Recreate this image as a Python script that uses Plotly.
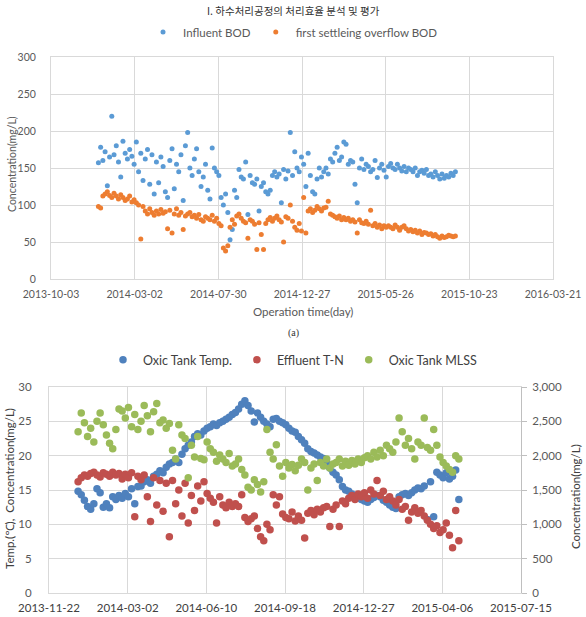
import pandas as pd
import plotly.graph_objects as go

# ---------------- Chart (a): BOD ----------------
a_start = "2013-12-27"          # first sampling day
a_step = "4D"                   # sampling interval
influent_bod = [
    157, 178, 160, 172, 126, 165, 220, 168, 180, 158,
    138, 186, 170, 162, 175, 166, 155, 185, 145, 170,
    133, 162, 175, 128, 168, 115, 158, 130, 165, 152,
    118, 110, 160, 176, 122, 155, 145, 168, 106, 180,
    198, 150, 140, 162, 176, 145, 125, 138, 155, 120,
    108, 177, 150, 145, 140, 110, 100, 115, 90, 53,
    67, 120, 110, 148, 138, 135, 158, 87, 140, 130,
    128, 135, 92, 125, 130, 118, 115, 120, 140, 145,
    138, 142, 103, 148, 135, 146, 198, 140, 172, 150,
    145, 165, 155, 125, 170, 140, 118, 115, 135, 150,
    138, 145, 150, 142, 162, 158, 170, 178, 160, 165,
    185, 182, 155, 160, 158, 128, 103, 150, 162, 148,
    155, 152, 145, 148, 160, 137, 150, 155, 147, 138,
    152, 156, 150, 148, 155, 150, 146, 152, 145, 150,
    148, 145, 150, 140, 145, 147, 143, 148, 140, 142,
    138, 145, 140, 135, 142, 136, 140, 138, 143, 140,
    145,
]
settling_bod = [
    98, 96, 112, 115, 118, 113, 110, 116, 112, 108,
    114, 110, 106, 108, 112, 104, 107, 103, 100, 54,
    98, 92, 88, 95, 90, 86, 92, 88, 94, 89,
    91, 68, 93, 62, 88, 95, 86, 90, 67, 85,
    88, 90, 84, 86, 82, 87, 80, 78, 84, 82,
    80, 86, 78, 82, 75, 72, 42, 38, 45, 70,
    80, 74, 85, 88, 82, 78, 76, 55, 80, 78,
    74, 40, 76, 60, 40, 75, 80, 83, 78, 82,
    85, 80, 77, 50, 84, 82, 100, 78, 70, 66,
    75, 65, 110, 62, 92, 95, 90, 93, 98, 95,
    92, 96, 97, 105, 88, 86, 84, 82, 85, 80,
    83, 80, 82, 78, 80, 77, 62, 80, 76, 75,
    78, 74, 93, 72, 75, 70, 73, 68, 72, 70,
    72, 70, 68, 73, 70, 66, 70, 72, 68, 65,
    67, 64, 66, 62, 65, 60, 63, 62, 60, 61,
    58, 60, 57, 55, 58, 56, 57, 59, 58, 57,
    58,
]
a_ticks = ["2013-10-03", "2014-03-02", "2014-07-30", "2014-12-27",
           "2015-05-26", "2015-10-23", "2016-03-21"]
a_yticks = [0, 50, 100, 150, 200, 250, 300]

# ---------------- Chart (b): oxic tank ----------------
b_start = "2013-12-29"
b_step = "4D"
oxic_temp = [
    14.8, 14.3, 13.5, 12.6, 12.2, 13.0, 15.2, 14.6, 12.5, 13.0,
    12.4, 14.0, 13.6, 14.2, 13.8, 14.5, 14.0, 15.2, 13.0, 15.5,
    15.6, 16.2, 16.5, 16.0, 17.0, 17.3, 17.8, 17.5, 18.3, 18.8,
    19.0, 19.5, 19.0, 20.2, 21.0, 21.5, 22.0, 22.8, 23.2, 23.0,
    23.6, 24.0, 24.2, 24.6, 24.4, 24.8, 25.0, 25.3, 25.6, 26.0,
    26.3, 26.8, 27.5, 28.0, 27.3, 26.5, 24.9, 26.2, 25.6, 25.0,
    24.6, 24.2, 25.3, 25.4, 25.0, 24.8, 24.5, 24.0, 23.6, 23.4,
    22.8, 22.3, 21.8, 21.0, 20.6, 20.4, 20.1, 19.8, 19.6, 19.0,
    18.2, 17.6, 17.2, 16.5, 15.5, 15.0, 14.8, 14.4, 14.2, 14.0,
    13.6, 13.4, 13.2, 13.6, 13.9, 14.2, 14.0, 13.5, 13.2, 12.8,
    12.5, 12.3, 14.0, 14.3, 14.5, 14.2, 14.6, 15.0, 15.3, 15.2,
    15.6, 10.7, 16.2, 11.1, 17.6, 17.2, 16.8, 17.5, 16.6, 17.0,
    17.9, 13.6,
]
effluent_tn = [
    16.2, 16.8, 17.2, 17.0, 17.4, 17.6, 17.2, 16.9, 17.5, 17.3,
    17.0, 17.6, 17.2, 17.4, 16.6, 17.3, 16.8, 17.5, 11.1, 17.0,
    16.5, 17.2, 14.0, 10.4, 16.8, 12.8, 16.4, 11.9, 16.0, 8.2,
    16.4, 13.0, 15.0, 11.2, 16.0, 10.2, 14.2, 12.0, 15.6, 13.4,
    16.2, 14.5, 13.8, 13.2, 10.2, 14.0, 12.8, 12.4, 13.2, 12.6,
    13.0, 12.6, 14.3, 11.0, 10.4, 10.8, 11.2, 9.4, 8.2, 7.6,
    10.0, 9.2, 14.3, 12.8, 14.0, 11.5, 11.0, 10.8, 11.8, 10.5,
    11.2, 10.6, 8.0, 11.6, 12.0, 11.4, 12.2, 11.8, 12.4, 12.6,
    9.7, 12.2, 12.8, 9.7, 13.4, 13.0, 13.8, 14.2, 13.6, 14.4,
    14.0, 14.6, 13.8, 15.0, 14.4, 16.4, 14.2, 14.8, 13.6, 14.0,
    13.4, 12.8, 13.6, 12.2, 12.6, 10.6, 11.8, 12.4, 11.6, 12.0,
    11.2, 10.6, 10.0, 9.4, 9.8, 8.8, 9.2, 10.2, 8.4, 6.6,
    12.0, 7.6,
]
oxic_mlss = [
    2350, 2620, 2480, 2280, 2400, 2200, 2500, 2620, 2450, 2300,
    2180, 2100, 2380, 2680, 2650, 2550, 2700, 2420, 2600, 2380,
    2500, 2730, 2580, 2350, 2640, 2760, 2480, 2520, 2400, 2470,
    2080, 1950, 2450, 2300, 2250, 1680, 2150, 1980, 2280, 1960,
    1940, 2200, 2100, 2050, 1920, 2010, 1950, 1900, 2030, 1850,
    1880, 1950, 1800, 1720, 1540, 1500, 1650, 1580, 1470, 1620,
    2380, 2050, 1950, 2160, 1850, 1700, 1900, 1820, 1870, 1780,
    1860, 1950, 1900, 1500, 1820, 1880, 1640, 1900, 1850, 1950,
    1820, 1880, 1900, 1950, 1850, 1920, 1860, 1930, 1880, 1950,
    1900, 1970, 2000, 1950, 2050, 1980, 2080, 2000, 2150, 2100,
    2050, 2200, 2550, 2350, 2150, 2250, 2100, 1950, 2200, 2150,
    2550, 2120, 2080, 2380, 2150, 1980, 1900, 1850, 1800, 1760,
    2000, 1950,
]
b_ticks = ["2013-11-22", "2014-03-02", "2014-06-10", "2014-09-18",
           "2014-12-27", "2015-04-06", "2015-07-15"]
b_yticks_left = [0, 5, 10, 15, 20, 25, 30]
b_yticks_right = [0, 500, 1000, 1500, 2000, 2500, 3000]

a_dates = pd.date_range(a_start, periods=len(influent_bod), freq=a_step)
a_dates2 = pd.date_range(a_start, periods=len(settling_bod), freq=a_step)
b_dates_t = pd.date_range(b_start, periods=len(oxic_temp), freq=b_step)
b_dates_n = pd.date_range(b_start, periods=len(effluent_tn), freq=b_step)
b_dates_m = pd.date_range(b_start, periods=len(oxic_mlss), freq=b_step)

W, H = 586, 617
def px(x):
    return x / W
def py(y):
    return 1 - y / H

GRID = "#d9d9d9"
TXT = "#595959"
FONT = "Lato, Noto Sans, sans-serif"

fig = go.Figure()
fig.add_trace(go.Scatter(x=a_dates, y=influent_bod, mode="markers", name="Influent BOD",
                         marker=dict(color="#5B9BD5", size=5), xaxis="x", yaxis="y",
                         legend="legend"))
fig.add_trace(go.Scatter(x=a_dates2, y=settling_bod, mode="markers",
                         name="first settleing overflow BOD",
                         marker=dict(color="#ED7D31", size=5), xaxis="x", yaxis="y",
                         legend="legend"))
fig.add_trace(go.Scatter(x=b_dates_t, y=oxic_temp, mode="markers", name="Oxic Tank Temp.",
                         marker=dict(color="#4F81BD", size=7.5), xaxis="x2", yaxis="y2",
                         legend="legend2"))
fig.add_trace(go.Scatter(x=b_dates_n, y=effluent_tn, mode="markers", name="Effluent T-N",
                         marker=dict(color="#C0504D", size=7.5), xaxis="x2", yaxis="y2",
                         legend="legend2"))
fig.add_trace(go.Scatter(x=b_dates_m, y=oxic_mlss, mode="markers", name="Oxic Tank MLSS",
                         marker=dict(color="#9BBB59", size=7.5), xaxis="x2", yaxis="y3",
                         legend="legend2"))

fig.update_layout(
    width=W, height=H, margin=dict(l=0, r=0, t=0, b=0, autoexpand=False),
    paper_bgcolor="white", plot_bgcolor="white",
    font=dict(family=FONT, color=TXT, size=10),
    xaxis=dict(domain=[px(51), px(553)], anchor="y", type="date", automargin=False,
               range=[a_ticks[0], a_ticks[-1]], tickvals=a_ticks, ticktext=a_ticks,
               showgrid=True, gridcolor=GRID, showline=True, mirror=True, linecolor=GRID,
               ticks="", tickfont=dict(size=10.5, color=TXT), ticklabelstandoff=5),
    yaxis=dict(domain=[py(279), py(57)], anchor="x", range=[0, 300], tickvals=a_yticks,
               automargin=False,
               showgrid=True, gridcolor=GRID, showline=True, mirror=True, linecolor=GRID,
               zeroline=False, ticks="", tickfont=dict(size=10.5, color=TXT),
               ticklabelstandoff=12),
    xaxis2=dict(domain=[px(49), px(521)], anchor="y2", type="date", automargin=False,
                range=[b_ticks[0], b_ticks[-1]], tickvals=b_ticks, ticktext=b_ticks,
                showgrid=True, gridcolor=GRID, showline=True, mirror=True, linecolor=GRID,
                ticks="", tickfont=dict(size=11.5, color="#404040"), ticklabelstandoff=4),
    yaxis2=dict(domain=[py(593), py(387)], anchor="x2", range=[0, 30], tickvals=b_yticks_left,
                automargin=False,
                showgrid=True, gridcolor=GRID, showline=True, linecolor=GRID, zeroline=False,
                ticks="", tickfont=dict(size=11.5, color=TXT), ticklabelstandoff=14),
    yaxis3=dict(anchor="x2", overlaying="y2", side="right", range=[0, 3000],
                automargin=False,
                tickvals=b_yticks_right, tickformat=",", showgrid=False,
                showline=True, linecolor="#bfbfbf", zeroline=False,
                ticks="outside", ticklen=5, tickcolor="#bfbfbf",
                tickfont=dict(size=11.5, color=TXT), ticklabelstandoff=3),
    legend=dict(orientation="h", x=0.5, xanchor="center", y=py(32), yanchor="middle",
                font=dict(size=11.5, color=TXT), bgcolor="rgba(0,0,0,0)",
                itemwidth=30),
    legend2=dict(orientation="h", x=0.5, xanchor="center", y=py(360), yanchor="middle",
                 font=dict(size=12.5, color="#404040"), bgcolor="rgba(0,0,0,0)",
                 itemwidth=30),
    annotations=[
        dict(text="I. 하수처리공정의 처리효율 분석 및 평가", x=0.5, y=py(1), xref="paper",
             yref="paper", showarrow=False, xanchor="center", yanchor="top",
             font=dict(family="Noto Sans CJK KR", size=10.5, color="#333333")),
        dict(text="Concentration(mg/L)", x=px(12), y=py(164), xref="paper", yref="paper",
             showarrow=False, textangle=-90, xanchor="center", yanchor="middle",
             font=dict(size=10.5, color=TXT)),
        dict(text="Operation time(day)", x=px(303), y=py(312), xref="paper", yref="paper",
             showarrow=False, xanchor="center", yanchor="middle",
             font=dict(size=11.5, color=TXT)),
        dict(text="(a)", x=0.5, y=py(333), xref="paper", yref="paper", showarrow=False,
             xanchor="center", yanchor="middle",
             font=dict(family="Liberation Serif", size=10, color="#333333")),
        dict(text="Temp.(℃),  Concentration(mg/L)", x=px(9), y=py(489), xref="paper",
             yref="paper", showarrow=False, textangle=-90, xanchor="center",
             yanchor="middle", font=dict(size=11.5, color="#404040")),
        dict(text="Concentration(mg/L)", x=px(575), y=py(497), xref="paper", yref="paper",
             showarrow=False, textangle=-90, xanchor="center", yanchor="middle",
             font=dict(size=11.5, color="#404040")),
    ],
)

fig.write_html("out.html")
